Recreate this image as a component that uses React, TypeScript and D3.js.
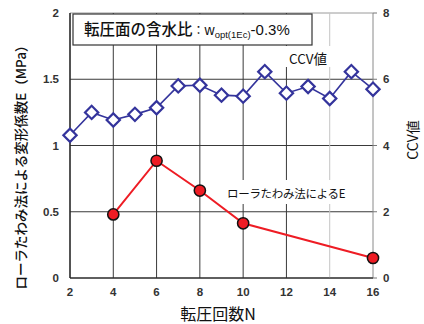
import React from "react";
import * as d3 from "d3";

// Roller passes N
const ccvPasses = [2, 3, 4, 5, 6, 7, 8, 9, 10, 11, 12, 13, 14, 15, 16];
// CCV value per pass
const ccvValues = [4.31, 5.0, 4.77, 4.94, 5.14, 5.8, 5.82, 5.52, 5.49, 6.23, 5.58, 5.78, 5.42, 6.23, 5.7];
// Deformation modulus E (MPa) from the roller deflection method
const ePasses = [4, 6, 8, 10, 16];
const eValues = [0.48, 0.885, 0.66, 0.413, 0.151];

const xTicks = [2, 4, 6, 8, 10, 12, 14, 16];
const leftTicks = [0, 0.5, 1, 1.5, 2];
const rightTicks = [0, 2, 4, 6, 8];

const W = 424;
const H = 324;
const M = { left: 70, right: 373, top: 13, bottom: 278 };

const JP = "'Noto Sans CJK JP', 'Noto Sans', sans-serif";
const NUM = "'Liberation Sans', Arial, sans-serif";
const BLUE = "#34349c";
const RED = "#ee1c24";

export default function App() {
  const x = d3.scaleLinear().domain([2, 16]).range([M.left, M.right]);
  const yL = d3.scaleLinear().domain([0, 2]).range([M.bottom, M.top]);
  const yR = d3.scaleLinear().domain([0, 8]).range([M.bottom, M.top]);

  const ccvLine = d3
    .line<number>()
    .x((_, i) => x(ccvPasses[i]))
    .y((d) => yR(d));
  const eLine = d3
    .line<number>()
    .x((_, i) => x(ePasses[i]))
    .y((d) => yL(d));

  const diamond = d3.symbol().type(d3.symbolSquare).size(88)();

  return (
    <svg
      width={W}
      height={H}
      style={{ position: "absolute", left: 0, top: 0, background: "#fff" }}
    >
      {/* horizontal grid */}
      {leftTicks.map((t) => (
        <line
          key={"h" + t}
          x1={M.left}
          x2={M.right}
          y1={yL(t)}
          y2={yL(t)}
          stroke={t === 2 ? "#9a9a9a" : "#3a3a3a"}
          strokeWidth={1}
        />
      ))}
      {/* vertical grid */}
      {xTicks.map((t) => (
        <line
          key={"v" + t}
          x1={x(t)}
          x2={x(t)}
          y1={M.top}
          y2={M.bottom}
          stroke={t === 14 ? "#c4c4c4" : t === 16 ? "#8a8a8a" : "#3a3a3a"}
          strokeWidth={1}
        />
      ))}
      {/* left & bottom axis lines */}
      <line x1={M.left} x2={M.left} y1={M.top} y2={M.bottom} stroke="#222" strokeWidth={1.2} />
      <line x1={M.left} x2={M.right} y1={M.bottom} y2={M.bottom} stroke="#222" strokeWidth={1.2} />
      {/* right axis ticks */}
      {rightTicks.map((t) => (
        <line key={"rt" + t} x1={M.right} x2={M.right + 4} y1={yR(t)} y2={yR(t)} stroke="#777" />
      ))}

      {/* tick labels */}
      {leftTicks.map((t) => (
        <text
          key={"lt" + t}
          x={59}
          y={yL(t)}
          dy="0.35em"
          textAnchor="end"
          fontFamily={NUM}
          fontSize={11.5}
          fontWeight={700}
          fill="#333"
        >
          {d3.format("~g")(t)}
        </text>
      ))}
      {rightTicks.map((t) => (
        <text
          key={"rl" + t}
          x={383}
          y={yR(t)}
          dy="0.35em"
          textAnchor="start"
          fontFamily={NUM}
          fontSize={11.5}
          fontWeight={700}
          fill="#333"
        >
          {t}
        </text>
      ))}
      {xTicks.map((t) => (
        <text
          key={"xl" + t}
          x={x(t)}
          y={292}
          dy="0.35em"
          textAnchor="middle"
          fontFamily={NUM}
          fontSize={11.5}
          fontWeight={700}
          fill="#333"
        >
          {t}
        </text>
      ))}

      {/* title box */}
      <rect x={73} y={14} width={239} height={31} fill="#fff" stroke="#333" strokeWidth={1.2} />
      <text x={84} y={30} dy="0.35em" fontFamily={JP} fontSize={15.5} fontWeight={500} fill="#111">
        転圧面の含水比
        <tspan fontSize={12} fontWeight={400}>：</tspan>
        <tspan fontFamily={NUM} fontWeight={400} fontSize={14}>w</tspan>
        <tspan fontFamily={NUM} fontWeight={400} fontSize={9.5} dy={3}>opt(1Ec)</tspan>
        <tspan fontFamily={NUM} fontWeight={400} fontSize={15} dy={-3}>-0.3%</tspan>
      </text>

      {/* series labels */}
      <rect x={284} y={46} width={48} height={21} fill="#fff" />
      <text x={289} y={59} dy="0.35em" fontFamily={JP} fontSize={13.5} fill="#111">
        CCV値
      </text>
      <rect x={225} y={180} width={136} height={24} fill="#fff" />
      <text x={227} y={194} dy="0.35em" fontFamily={JP} fontSize={11.5} fill="#111" letterSpacing={-0.3}>
        ローラたわみ法によるE
      </text>

      {/* CCV series */}
      <path d={ccvLine(ccvValues) ?? ""} fill="none" stroke={BLUE} strokeWidth={1.6} />
      {ccvValues.map((v, i) => (
        <path
          key={"d" + i}
          d={diamond ?? ""}
          transform={`translate(${x(ccvPasses[i])},${yR(v)}) rotate(45)`}
          fill="#fff"
          stroke={BLUE}
          strokeWidth={2.2}
        />
      ))}

      {/* E series */}
      <path d={eLine(eValues) ?? ""} fill="none" stroke={RED} strokeWidth={2} />
      {eValues.map((v, i) => (
        <circle
          key={"c" + i}
          cx={x(ePasses[i])}
          cy={yL(v)}
          r={5.6}
          fill={RED}
          stroke="#111"
          strokeWidth={1.5}
        />
      ))}

      {/* axis titles */}
      <text
        transform={`translate(21,164) rotate(-90)`}
        textAnchor="middle"
        dy="0.35em"
        fontFamily={JP}
        fontSize={13.5}
        fontWeight={500}
        fill="#111"
      >
        ローラたわみ法による変形係数E（MPa）
      </text>
      <text
        transform={`translate(413,140) rotate(-90)`}
        textAnchor="middle"
        dy="0.35em"
        fontFamily={JP}
        fontSize={14}
        fill="#111"
      >
        CCV値
      </text>
      <text x={218} y={314} dy="0.35em" textAnchor="middle" fontFamily={JP} fontSize={16} fill="#111">
        転圧回数N
      </text>
    </svg>
  );
}
